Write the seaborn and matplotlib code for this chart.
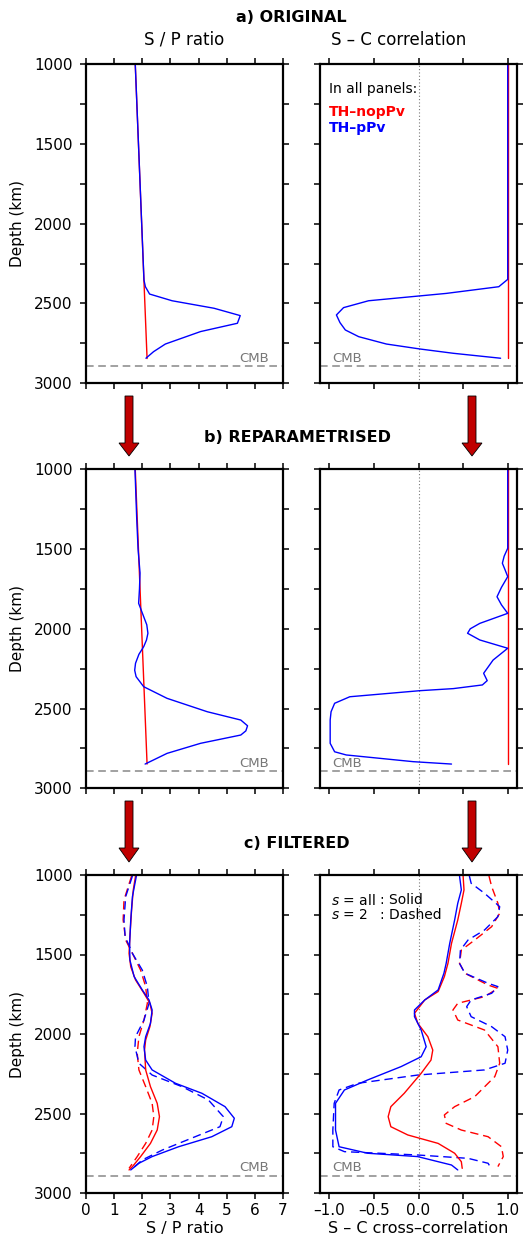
import matplotlib.pyplot as plt
import seaborn as sns
from matplotlib.patches import Polygon
from matplotlib.ticker import MultipleLocator, FuncFormatter

# ---- data (depth in km) ----
# a) ORIGINAL
a_sp_red_depth = [1000, 2845]
a_sp_red = [1.75, 2.17]
a_sp_blue_depth = [1000, 2353, 2395, 2441, 2483, 2530, 2576, 2624, 2676, 2754, 2802, 2843]
a_sp_blue = [1.75, 2.06, 2.11, 2.26, 3.06, 4.55, 5.48, 5.38, 4.07, 2.82, 2.40, 2.13]

a_sc_red_depth = [1000, 2843]
a_sc_red = [1.0, 1.0]
a_sc_blue_depth = [1000, 2349, 2395, 2437, 2483, 2526, 2572, 2620, 2666, 2708, 2754, 2785, 2812, 2843]
a_sc_blue = [1.0, 1.0, 0.90, 0.31, -0.56, -0.84, -0.92, -0.88, -0.82, -0.67, -0.36, 0.015, 0.39, 0.92]

# b) REPARAMETRISED
b_sp_red_depth = [1000, 2848]
b_sp_red = [1.75, 2.17]
b_sp_blue_depth = [1000, 1300, 1500, 1650, 1750, 1840, 1924, 1975, 2028, 2070, 2112, 2160, 2216,
                   2260, 2300, 2363, 2436, 2520, 2572, 2608, 2640, 2666, 2718, 2781, 2848]
b_sp_blue = [1.74, 1.80, 1.85, 1.92, 1.90, 1.87, 2.05, 2.16, 2.20, 2.15, 2.05, 1.88, 1.76,
             1.73, 1.78, 2.05, 2.88, 4.31, 5.50, 5.74, 5.68, 5.50, 4.07, 2.88, 2.10]

b_sc_red_depth = [1000, 2848]
b_sc_red = [1.0, 1.0]
b_sc_blue_depth = [1000, 1318, 1495, 1545, 1589, 1630, 1673, 1740, 1799, 1850, 1903, 1966, 2000,
                   2028, 2070, 2122, 2196, 2279, 2325, 2352, 2375, 2388, 2426, 2467, 2520, 2572,
                   2718, 2771, 2791, 2833, 2848]
b_sc_blue = [1.0, 1.0, 1.0, 0.96, 0.94, 0.97, 1.0, 0.93, 0.88, 0.93, 1.0, 0.687, 0.58,
             0.55, 0.687, 1.0, 0.836, 0.73, 0.77, 0.716, 0.39, 0.015, -0.77, -0.94, -0.98, -0.99,
             -0.99, -0.94, -0.81, -0.06, 0.37]

# c) FILTERED, S/P ratio
c_sp_red_depth = [1006, 1094, 1220, 1388, 1493, 1577, 1660, 1744, 1807, 1870, 1954, 2038, 2101,
                  2226, 2331, 2436, 2520, 2604, 2688, 2771, 2834, 2855]
c_sp_red = [1.76, 1.68, 1.62, 1.56, 1.53, 1.59, 1.76, 2.06, 2.27, 2.35, 2.27, 2.12, 2.08,
            2.12, 2.29, 2.53, 2.61, 2.53, 2.29, 1.94, 1.65, 1.53]
c_sp_blue_depth = [1006, 1136, 1283, 1430, 1535, 1639, 1723, 1786, 1849, 1933, 2017, 2080, 2164,
                   2226, 2310, 2373, 2457, 2530, 2583, 2646, 2709, 2771, 2813, 2855]
c_sp_blue = [1.79, 1.65, 1.59, 1.55, 1.56, 1.71, 2.00, 2.24, 2.35, 2.29, 2.12, 2.06, 2.12,
             2.35, 3.18, 4.12, 4.94, 5.27, 5.18, 4.47, 3.29, 2.35, 1.88, 1.59]
c_sp_blue2_depth = [1006, 1136, 1283, 1388, 1493, 1598, 1702, 1807, 1912, 2017, 2080, 2184, 2258,
                    2331, 2415, 2520, 2583, 2646, 2730, 2792, 2855]
c_sp_blue2 = [1.65, 1.41, 1.35, 1.39, 1.65, 2.00, 2.18, 2.24, 2.06, 1.76, 1.74, 1.88, 2.35,
              3.41, 4.35, 4.88, 4.76, 3.88, 2.71, 2.00, 1.59]
c_sp_red2_depth = [1006, 1157, 1283, 1409, 1493, 1598, 1702, 1807, 1912, 2017, 2122, 2226, 2331,
                   2436, 2520, 2604, 2688, 2771, 2845]
c_sp_red2 = [1.62, 1.35, 1.32, 1.41, 1.65, 1.94, 2.12, 2.18, 2.06, 1.88, 1.82, 1.88, 2.12,
             2.35, 2.41, 2.35, 2.12, 1.82, 1.53]

# c) FILTERED, S-C cross-correlation
c_sc_blue_depth = [1006, 1094, 1178, 1283, 1430, 1556, 1618, 1723, 1786, 1849, 1891, 1975, 2080,
                   2143, 2205, 2289, 2352, 2436, 2604, 2709, 2750, 2771, 2824, 2855]
c_sc_blue = [0.46, 0.48, 0.44, 0.405, 0.35, 0.31, 0.285, 0.22, 0.07, -0.045, -0.045, 0.03, 0.086,
             0.03, -0.195, -0.57, -0.83, -0.93, -0.93, -0.89, -0.57, -0.01, 0.37, 0.44]
c_sc_red_depth = [1006, 1094, 1178, 1283, 1430, 1556, 1639, 1733, 1786, 1870, 1933, 2017, 2101,
                  2164, 2247, 2373, 2457, 2520, 2583, 2635, 2688, 2750, 2803, 2845]
c_sc_red = [0.50, 0.51, 0.48, 0.44, 0.37, 0.33, 0.29, 0.22, 0.07, -0.045, -0.0075, 0.105, 0.16,
            0.14, 0.03, -0.16, -0.31, -0.34, -0.31, -0.12, 0.22, 0.405, 0.48, 0.49]
c_sc_blue2_depth = [1006, 1052, 1115, 1199, 1262, 1346, 1409, 1472, 1556, 1618, 1681, 1702, 1744,
                    1786, 1828, 1891, 1954, 2017, 2101, 2184, 2226, 2258, 2310, 2352, 2436, 2604,
                    2709, 2740, 2761, 2782, 2813, 2851]
c_sc_blue2 = [0.57, 0.59, 0.74, 0.91, 0.89, 0.74, 0.555, 0.47, 0.46, 0.52, 0.78, 0.89, 0.82,
              0.59, 0.54, 0.59, 0.82, 0.97, 1.0, 0.97, 0.74, -0.0075, -0.68, -0.89, -0.945, -0.96,
              -0.96, -0.83, -0.0075, 0.555, 0.78, 0.82]
c_sc_red2_depth = [1006, 1073, 1178, 1241, 1325, 1409, 1472, 1556, 1618, 1692, 1713, 1765, 1807,
                   1849, 1912, 1975, 2080, 2184, 2268, 2394, 2457, 2509, 2562, 2604, 2646, 2709,
                   2771, 2834]
c_sc_red2 = [0.79, 0.82, 0.89, 0.91, 0.82, 0.63, 0.48, 0.46, 0.52, 0.78, 0.89, 0.74, 0.44,
             0.386, 0.44, 0.74, 0.89, 0.91, 0.855, 0.63, 0.405, 0.29, 0.31, 0.48, 0.78, 0.93,
             0.95, 0.89]

CMB_DEPTH = 2891
RED = '#ff0000'
BLUE = '#0000ff'
DASH = (0, (6, 3.5))

sns.set_theme(style="ticks")
plt.rcParams['font.family'] = ['DejaVu Sans']
plt.rcParams['mathtext.fontset'] = 'dejavusans'
plt.rcParams['text.color'] = 'black'
plt.rcParams['axes.labelcolor'] = 'black'
plt.rcParams['xtick.color'] = 'black'
plt.rcParams['ytick.color'] = 'black'

W, H = 523, 1250
fig = plt.figure(figsize=(W / 100, H / 100), dpi=100)


def fx(px):
    return px / W


def fy(py):
    return 1 - py / H


# panel rows: (top px, bottom px)
rows = [(64, 383.3), (469.3, 788.3), (875, 1193)]
left_x, right_x, pw = 86, 320, 197


def draw(ax, vals, depth, color, dashed=False):
    sns.lineplot(x=vals, y=depth, ax=ax, color=color, lw=1.0, sort=False,
                 estimator=None, ls=DASH if dashed else '-')


def style_axis(ax, right, bottom_row):
    if right:
        ax.set_xlim(-1.104, 1.104)
        ax.set_xticks([-1.0, -0.5, 0.0, 0.5, 1.0])
        ax.xaxis.set_major_formatter(FuncFormatter(lambda v, p: f'{v:.1f}'.replace('-', '–')))
        ax.axvline(0, color='#777777', ls=(0, (1, 2)), lw=0.8, zorder=0)
    else:
        ax.set_xlim(0, 7)
        ax.set_xticks(range(8))
    ax.set_ylim(3000, 1000)
    ax.yaxis.set_major_locator(MultipleLocator(500))
    ax.yaxis.set_minor_locator(MultipleLocator(250))
    ax.tick_params(which='both', direction='out', top=True, right=True, bottom=True, left=True,
                   length=4.5, width=1.1, colors='black', labelsize=11, pad=3)
    ax.tick_params(axis='y', pad=5)
    ax.tick_params(labelbottom=bottom_row, labelleft=not right)
    for s in ax.spines.values():
        s.set_linewidth(1.6)
        s.set_color('black')
    ax.set_xlabel('')
    ax.set_ylabel('')
    ax.axhline(CMB_DEPTH, color='#888888', ls=(0, (5, 3)), lw=1.1, zorder=0)
    if right:
        ax.text(0.061, CMB_DEPTH - 8, 'CMB', transform=ax.get_yaxis_transform(),
                ha='left', va='bottom', color='#777777', fontsize=9.5)
    else:
        ax.text(0.93, CMB_DEPTH - 8, 'CMB', transform=ax.get_yaxis_transform(),
                ha='right', va='bottom', color='#777777', fontsize=9.5)


axes = []
for i, (top, bot) in enumerate(rows):
    h = (bot - top) / H
    axl = fig.add_axes([fx(left_x), fy(bot), pw / W, h])
    axr = fig.add_axes([fx(right_x), fy(bot), pw / W, h])
    axes.append((axl, axr))

# a) original
axl, axr = axes[0]
draw(axl, a_sp_red, a_sp_red_depth, RED)
draw(axl, a_sp_blue, a_sp_blue_depth, BLUE)
draw(axr, a_sc_red, a_sc_red_depth, RED)
draw(axr, a_sc_blue, a_sc_blue_depth, BLUE)

# b) reparametrised
axl, axr = axes[1]
draw(axl, b_sp_red, b_sp_red_depth, RED)
draw(axl, b_sp_blue, b_sp_blue_depth, BLUE)
draw(axr, b_sc_red, b_sc_red_depth, RED)
draw(axr, b_sc_blue, b_sc_blue_depth, BLUE)

# c) filtered
axl, axr = axes[2]
draw(axl, c_sp_red2, c_sp_red2_depth, RED, dashed=True)
draw(axl, c_sp_blue2, c_sp_blue2_depth, BLUE, dashed=True)
draw(axl, c_sp_red, c_sp_red_depth, RED)
draw(axl, c_sp_blue, c_sp_blue_depth, BLUE)
draw(axr, c_sc_red2, c_sc_red2_depth, RED, dashed=True)
draw(axr, c_sc_blue2, c_sc_blue2_depth, BLUE, dashed=True)
draw(axr, c_sc_red, c_sc_red_depth, RED)
draw(axr, c_sc_blue, c_sc_blue_depth, BLUE)

for i, (axl, axr) in enumerate(axes):
    style_axis(axl, False, i == 2)
    style_axis(axr, True, i == 2)
    top, bot = rows[i]
    fig.text(fx(18), fy((top + bot) / 2), 'Depth (km)', rotation=90, ha='center',
             va='center', fontsize=11)

axes[2][0].set_xlabel('S / P ratio', fontsize=11.5, labelpad=2)
axes[2][1].set_xlabel('S – C cross–correlation', fontsize=11.5, labelpad=2)

# legend texts
axr = axes[0][1]
axr.text(0.046, 0.922, 'In all panels:', transform=axr.transAxes, fontsize=10, va='center')
axr.text(0.046, 0.851, 'TH–nopPv', transform=axr.transAxes, fontsize=10, va='center',
         color=RED, fontweight='bold')
axr.text(0.046, 0.801, 'TH–pPv', transform=axr.transAxes, fontsize=10, va='center',
         color=BLUE, fontweight='bold')
axr = axes[2][1]
axr.text(0.054, 0.921, '$s$ = all', transform=axr.transAxes, fontsize=10, va='center')
axr.text(0.054, 0.874, '$s$ = 2', transform=axr.transAxes, fontsize=10, va='center')
axr.text(0.305, 0.921, ': Solid', transform=axr.transAxes, fontsize=10, va='center')
axr.text(0.305, 0.874, ': Dashed', transform=axr.transAxes, fontsize=10, va='center')

# titles
fig.text(fx(291), fy(18), 'a) ORIGINAL', ha='center', va='center', fontsize=11.5, fontweight='bold')
fig.text(fx(297), fy(438), 'b) REPARAMETRISED', ha='center', va='center', fontsize=11.5,
         fontweight='bold')
fig.text(fx(297), fy(844), 'c) FILTERED', ha='center', va='center', fontsize=11.5,
         fontweight='bold')
fig.text(fx(184.5), fy(40), 'S / P ratio', ha='center', va='center', fontsize=12)
fig.text(fx(399), fy(40), 'S – C correlation', ha='center', va='center', fontsize=12)


# red arrows between rows
def arrow(xc, y_top, y_head, y_tip):
    pts = [(xc - 4, y_top), (xc + 4, y_top), (xc + 4, y_head), (xc + 10, y_head),
           (xc, y_tip), (xc - 10, y_head), (xc - 4, y_head)]
    fig.patches.append(Polygon([(fx(x), fy(y)) for x, y in pts], closed=True,
                               transform=fig.transFigure, facecolor='#c00000',
                               edgecolor='black', lw=0.6))


for xc in (129, 472):
    arrow(xc, 396, 443, 456)
    arrow(xc, 801, 848, 862)

fig.savefig('out.png', dpi=100)
